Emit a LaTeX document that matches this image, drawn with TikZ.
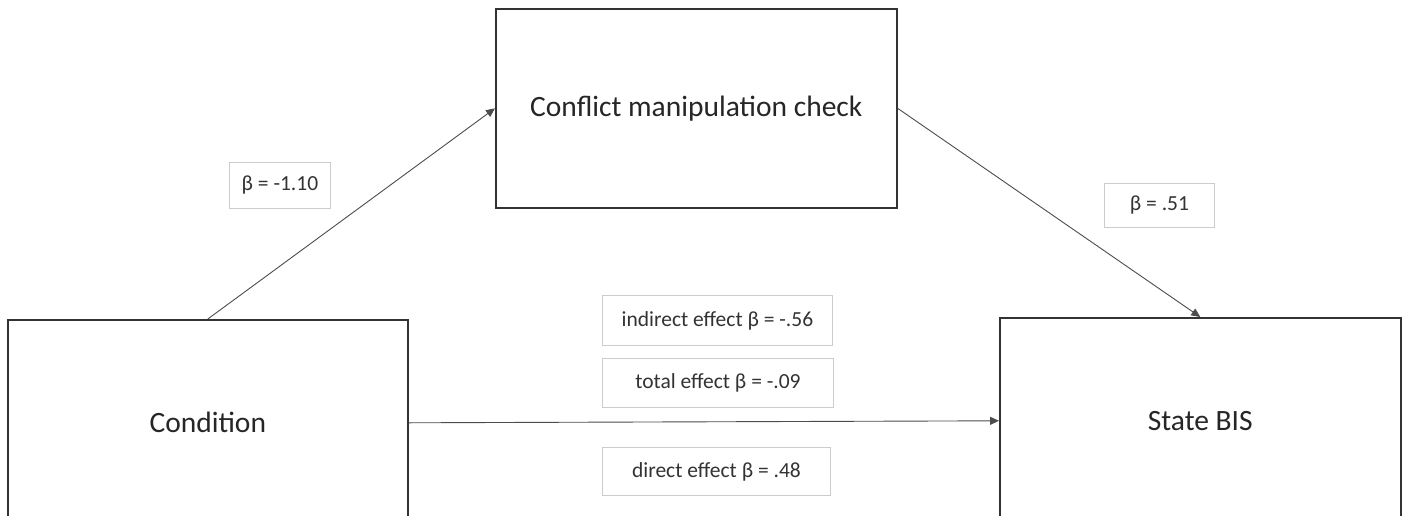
\documentclass[tikz,border=0pt]{standalone}
\usepackage{fontspec}
\setmainfont{Carlito}
\usetikzlibrary{arrows.meta}
\begin{document}
\begin{tikzpicture}[x=1pt,y=-1pt,
  mainbox/.style={draw=black!80,line width=1.6pt,fill=white,inner sep=0pt,anchor=north west,font=\fontsize{29.5}{34}\selectfont,text=black!85},
  lblbox/.style={draw=black!20,line width=0.9pt,fill=white,inner sep=0pt,anchor=north west,font=\fontsize{21.5}{25}\selectfont,text=black!80},
  conn/.style={draw=black!70,line width=0.9pt,-{Triangle[length=9pt,width=8pt]}}]
\clip (0,0) rectangle (1408,515);
\useasboundingbox (0,0) rectangle (1408,515);
\node[mainbox,minimum width=401pt,minimum height=199pt] (top) at (495,8) {Conflict manipulation check};
\node[mainbox,minimum width=400pt,minimum height=206pt] (cond) at (7,319) {Condition};
\node[mainbox,minimum width=401pt,minimum height=206pt] (bis) at (999,317) {State BIS};
\draw[conn] (cond.north) -- (top.west);
\draw[conn] (top.east) -- (bis.north);
\draw[conn] (cond.east) -- (bis.west);
\node[lblbox,minimum width=101pt,minimum height=46pt] (b1) at (229,162) {β = -1.10};
\node[lblbox,minimum width=110pt,minimum height=44pt] (b2) at (1104,183) {β = .51};
\node[lblbox,minimum width=230pt,minimum height=50pt] (ind) at (602,295) {indirect effect β = -.56};
\node[lblbox,minimum width=231pt,minimum height=49pt] (tot) at (602,358) {total effect β = -.09};
\node[lblbox,minimum width=228pt,minimum height=48pt] (dir) at (602,447) {direct effect β = .48};
\end{tikzpicture}
\end{document}
